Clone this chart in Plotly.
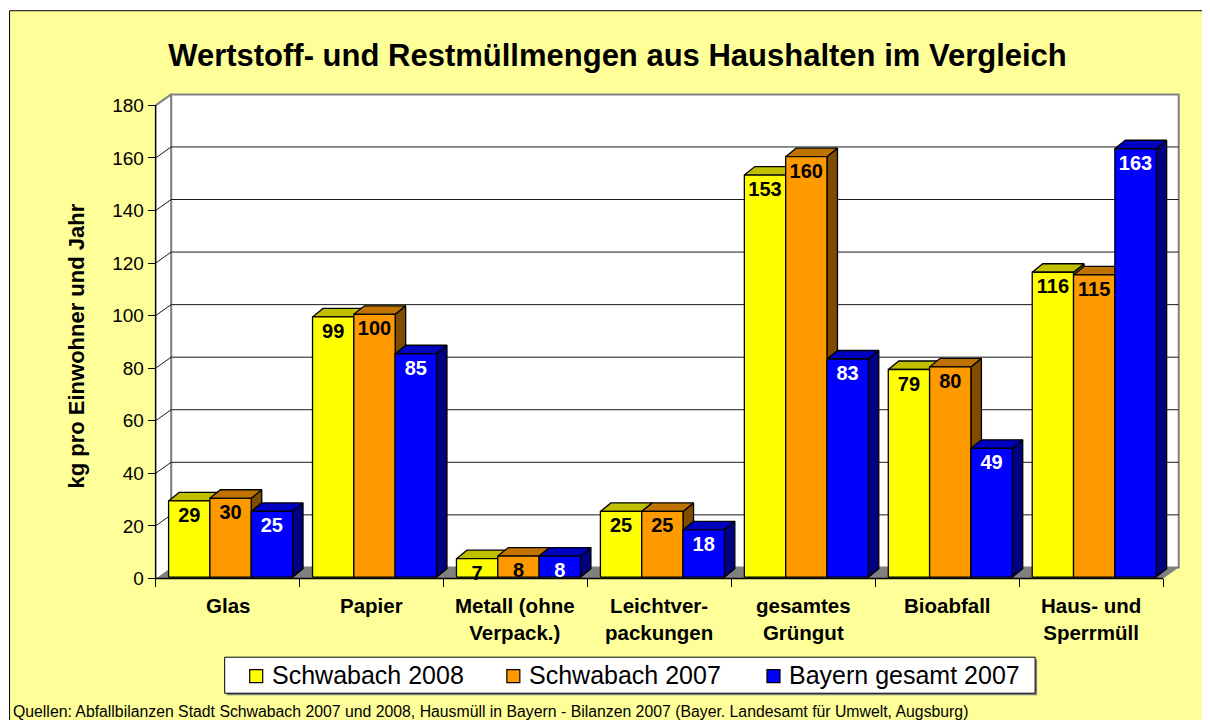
import plotly.graph_objects as go

# ---------------- data ----------------
categories = ["Glas", "Papier", "Metall (ohne<br>Verpack.)", "Leichtver-<br>packungen",
              "gesamtes<br>Grüngut", "Bioabfall", "Haus- und<br>Sperrmüll"]
schwabach_2008 = [29, 99, 7, 25, 153, 79, 116]
schwabach_2007 = [30, 100, 8, 25, 160, 80, 115]
bayern_2007 = [25, 85, 8, 18, 83, 49, 163]
series_names = ["Schwabach 2008", "Schwabach 2007", "Bayern gesamt 2007"]
y_ticks = [0, 20, 40, 60, 80, 100, 120, 140, 160, 180]
title_text = "Wertstoff- und Restmüllmengen aus Haushalten im Vergleich"
y_title = "kg pro Einwohner und Jahr"
source_text = ("Quellen: Abfallbilanzen Stadt Schwabach 2007 und 2008, Hausmüll in Bayern - "
               "Bilanzen 2007 (Bayer. Landesamt für Umwelt, Augsburg)")

# ---------------- styles ----------------
FONT = "Liberation Sans, Arial, sans-serif"
front_colors = ["#FFFF00", "#FF9900", "#0000FF"]
top_colors = ["#C0C000", "#C07300", "#0000C0"]
side_colors = ["#808000", "#804C00", "#000080"]
label_colors = ["black", "black", "white"]

W, H = 1210, 720
OFF = 8.0                       # page offset of the figure (body margin)
X_PX0, X_PXU = 156.0 - OFF, 143.86   # pixel of x=0, pixels per category
Y_PX0, Y_PXU = 578.3 - OFF, 2.626    # pixel of y=0, pixels per unit
XR = (-0.06, 7.2)
YR = (-2.5, 187.0)
left = X_PX0 + XR[0] * X_PXU
right = X_PX0 + XR[1] * X_PXU
top = Y_PX0 - YR[1] * Y_PXU
bottom = Y_PX0 - YR[0] * Y_PXU


def px_x(p):
    """page pixel -> paper x"""
    return (p - OFF - left) / (right - left)


def px_y(p):
    """page pixel -> paper y"""
    return (bottom - (p - OFF)) / (bottom - top)


NCAT = len(categories)
YMAX = y_ticks[-1]
WDX, WDY = 15.5 / X_PXU, 11.0 / Y_PXU      # wall depth
BDX, BDY = 10.5 / X_PXU, 8.5 / Y_PXU       # bar depth
BAR_W = 0.287
GROUP_LEFT = 0.09
LIFT = 0.5
LABEL_DROP = 6.0 / Y_PXU

fig = go.Figure()


def poly(xs, ys, fill, lcolor="rgba(0,0,0,0)", lw=0):
    fig.add_trace(go.Scatter(x=xs, y=ys, mode="lines", fill="toself", fillcolor=fill,
                             line=dict(color=lcolor, width=lw), hoverinfo="skip",
                             showlegend=False))


def line(xs, ys, color, lw):
    fig.add_trace(go.Scatter(x=xs, y=ys, mode="lines", line=dict(color=color, width=lw),
                             hoverinfo="skip", showlegend=False))


# floor
poly([0, NCAT, NCAT + WDX, WDX, 0], [0, 0, WDY, WDY, 0], "#808080")
# back wall
poly([WDX, NCAT + WDX, NCAT + WDX, WDX, WDX], [WDY, WDY, YMAX + WDY, YMAX + WDY, WDY],
     "white", "#808080", 2)
# left side wall
poly([0, WDX, WDX, 0, 0], [0, WDY, YMAX + WDY, YMAX, 0], "white")
line([0, WDX], [YMAX, YMAX + WDY], "#808080", 2)
line([WDX, WDX], [WDY, YMAX + WDY], "#808080", 2)
# grid lines
gx, gy = [], []
for v in y_ticks[1:-1]:
    gx += [0, WDX, NCAT + WDX, None]
    gy += [v, v + WDY, v + WDY, None]
line(gx, gy, "#1a1a1a", 1)
# axis lines
line([0, 0], [0, YMAX], "black", 1.5)
line([0, NCAT], [0, 0], "black", 1.5)

# 3D bars
all_series = [schwabach_2008, schwabach_2007, bayern_2007]
for k, vals in enumerate(all_series):
    fx, fy, tx, ty, sx, sy = [], [], [], [], [], []
    for i, v in enumerate(vals):
        x0 = i + GROUP_LEFT + k * BAR_W
        x1 = x0 + BAR_W
        yb, yt = LIFT, v + LIFT
        fx += [x0, x1, x1, x0, x0, None]
        fy += [yb, yb, yt, yt, yb, None]
        tx += [x0, x1, x1 + BDX, x0 + BDX, x0, None]
        ty += [yt, yt, yt + BDY, yt + BDY, yt, None]
        sx += [x1, x1 + BDX, x1 + BDX, x1, x1, None]
        sy += [yb, yb + BDY, yt + BDY, yt, yb, None]
    for xs, ys, col in ((sx, sy, side_colors[k]), (tx, ty, top_colors[k]), (fx, fy, front_colors[k])):
        poly(xs, ys, col, "black", 1.3)

# value labels
for k, vals in enumerate(all_series):
    xs = [i + GROUP_LEFT + k * BAR_W + BAR_W / 2 for i in range(NCAT)]
    ys = [v + LIFT - LABEL_DROP for v in vals]
    fig.add_trace(go.Scatter(x=xs, y=ys, mode="text", text=[str(v) for v in vals],
                             textposition="bottom center", cliponaxis=False,
                             textfont=dict(family=FONT, size=20, color=label_colors[k], weight="bold"),
                             hoverinfo="skip", showlegend=False))

# category labels
for i, c in enumerate(categories):
    fig.add_annotation(x=i + 0.5, y=0, xref="x", yref="y", text=c, showarrow=False,
                       yanchor="top", yshift=-14,
                       font=dict(family=FONT, size=20.5, color="black", weight="bold"))

# y-axis title
fig.add_annotation(x=px_x(77), y=px_y(346), xref="paper", yref="paper", text=y_title,
                   textangle=-90, showarrow=False, xanchor="center", yanchor="middle",
                   font=dict(family=FONT, size=22, color="black", weight="bold"))
# source
fig.add_annotation(x=px_x(11), y=px_y(711), xref="paper", yref="paper", text=source_text,
                   showarrow=False, xanchor="left", yanchor="middle",
                   font=dict(family=FONT, size=15.8, color="black"))

# background frame
fig.add_shape(type="rect", xref="paper", yref="paper", x0=px_x(10), x1=px_x(1260),
              y0=px_y(780), y1=px_y(11), fillcolor="#FFFF99",
              line=dict(color="black", width=1), layer="below")

# legend (box, keys, texts)
LEG_X0, LEG_X1, LEG_Y0, LEG_Y1 = 225, 1035, 657, 693
LEG_KEY_X = [250, 507, 767]
LEG_YC = 676
fig.add_shape(type="rect", xref="paper", yref="paper", x0=px_x(LEG_X0 + 2), x1=px_x(LEG_X1 + 2),
              y0=px_y(LEG_Y1 + 2), y1=px_y(LEG_Y0 + 2), fillcolor="#808080",
              line=dict(width=0), layer="above")
fig.add_shape(type="rect", xref="paper", yref="paper", x0=px_x(LEG_X0), x1=px_x(LEG_X1),
              y0=px_y(LEG_Y1), y1=px_y(LEG_Y0), fillcolor="white",
              line=dict(color="black", width=1), layer="above")
for k, name in enumerate(series_names):
    kx = LEG_KEY_X[k]
    fig.add_shape(type="rect", xref="paper", yref="paper", x0=px_x(kx), x1=px_x(kx + 13),
                  y0=px_y(LEG_YC + 6.5), y1=px_y(LEG_YC - 6.5), fillcolor=front_colors[k],
                  line=dict(color="black", width=1.2), layer="above")
    fig.add_annotation(x=px_x(kx + 20), y=px_y(LEG_YC - 1), xref="paper", yref="paper",
                       text=name, showarrow=False, xanchor="left", yanchor="middle",
                       font=dict(family=FONT, size=25, color="black"))

fig.update_layout(
    width=W, height=H,
    margin=dict(l=left, r=W - right, t=top, b=H - bottom, pad=0, autoexpand=False),
    paper_bgcolor="white", plot_bgcolor="rgba(0,0,0,0)",
    font=dict(family=FONT, color="black"),
    title=dict(text=title_text, x=(617.5 - OFF) / W, y=1 - (55 - OFF) / H,
               xref="container", yref="container", xanchor="center", yanchor="middle",
               font=dict(family=FONT, size=31, color="black", weight="bold")),
    showlegend=False,
    xaxis=dict(range=list(XR), showgrid=False, zeroline=False, showline=False,
               tickvals=list(range(NCAT + 1)), ticktext=[""] * (NCAT + 1),
               ticks="outside", ticklen=8, tickcolor="black", tickwidth=1,
               anchor="free", position=px_y(578.3), fixedrange=True),
    yaxis=dict(range=list(YR), showgrid=False, zeroline=False, showline=False,
               tickvals=y_ticks, ticks="outside", ticklen=8, tickcolor="black", tickwidth=1,
               tickfont=dict(family=FONT, size=19, color="black"),
               anchor="free", position=px_x(156.0), fixedrange=True),
)

fig.write_html("out.html")
